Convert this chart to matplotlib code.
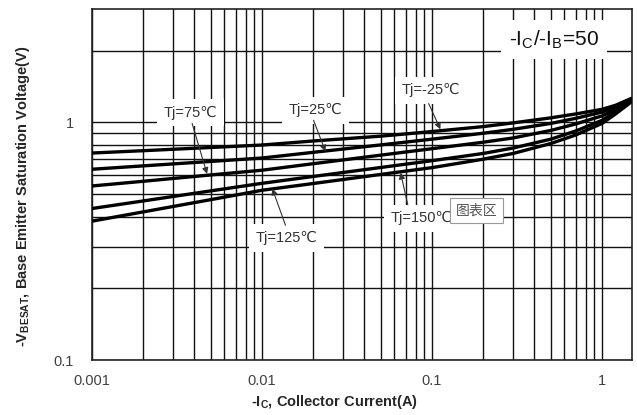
import matplotlib
matplotlib.use("Agg")
import matplotlib.pyplot as plt
from matplotlib.ticker import FixedLocator, NullFormatter, FixedFormatter

plt.rcParams['font.family'] = ['Liberation Sans', 'DejaVu Sans', 'Noto Sans CJK SC']
plt.rcParams['mathtext.fontset'] = 'custom'
plt.rcParams['mathtext.rm'] = 'Liberation Sans'
plt.rcParams['mathtext.bf'] = 'Liberation Sans:bold'

# ---- data ----
ic = [0.001, 0.002, 0.005, 0.01, 0.02, 0.05, 0.1, 0.2, 0.3, 0.5, 0.7, 1.0, 1.2, 1.5]
v_m25 = [0.743, 0.760, 0.784, 0.803, 0.835, 0.875, 0.915, 0.960, 0.995, 1.045, 1.085, 1.135, 1.180, 1.265]
v_25 = [0.635, 0.656, 0.685, 0.708, 0.748, 0.804, 0.850, 0.900, 0.935, 0.990, 1.040, 1.105, 1.160, 1.255]
v_75 = [0.540, 0.565, 0.601, 0.629, 0.670, 0.728, 0.775, 0.825, 0.860, 0.925, 0.985, 1.065, 1.135, 1.245]
v_125 = [0.434, 0.467, 0.515, 0.554, 0.592, 0.646, 0.690, 0.740, 0.780, 0.850, 0.920, 1.020, 1.110, 1.235]
v_150 = [0.384, 0.420, 0.473, 0.518, 0.553, 0.604, 0.645, 0.700, 0.740, 0.815, 0.885, 0.990, 1.085, 1.225]
series = [v_m25, v_25, v_75, v_125, v_150]

x_major = [0.001, 0.01, 0.1, 1]
x_major_labels = ["0.001", "0.01", "0.1", "1"]
y_major = [0.1, 1]
y_major_labels = ["0.1", "1"]

labels = ["Tj=-25\u2103", "Tj=25\u2103", "Tj=75\u2103", "Tj=125\u2103", "Tj=150\u2103"]
label_pos = [(0.0982, 1.363), (0.0206, 1.123), (0.00378, 1.10), (0.0139, 0.326), (0.0870, 0.395)]
arrow_from = [(0.0955, 1.20), (0.0201, 1.02), (0.00388, 0.99), (0.01374, 0.369), (0.0720, 0.450)]
arrow_to = [(0.112, 0.935), (0.0236, 0.755), (0.00475, 0.607), (0.0115, 0.526), (0.0653, 0.614)]

fig = plt.figure(figsize=(6.37, 4.15), dpi=100)
ax = fig.add_axes([92/637, 1-360/415, 540/637, 351/415])
ax.set_xscale('log')
ax.set_yscale('log')
ax.set_xlim(0.001, 1.5)
ax.set_ylim(0.1, 3.0)

# ticks / grid
xminor = [k*10.0**n for n in (-3, -2, -1) for k in range(2, 10)]
yminor = [0.2, 0.3, 0.4, 0.5, 0.6, 0.7, 0.8, 0.9, 2.0]
ax.xaxis.set_major_locator(FixedLocator(x_major))
ax.xaxis.set_major_formatter(FixedFormatter(x_major_labels))
ax.xaxis.set_minor_locator(FixedLocator(xminor))
ax.xaxis.set_minor_formatter(NullFormatter())
ax.yaxis.set_major_locator(FixedLocator(y_major))
ax.yaxis.set_major_formatter(FixedFormatter(y_major_labels))
ax.yaxis.set_minor_locator(FixedLocator(yminor))
ax.yaxis.set_minor_formatter(NullFormatter())
ax.tick_params(which='both', length=0)
ax.tick_params(axis='x', pad=10, labelsize=10.5, labelcolor='#404040')
ax.tick_params(axis='y', pad=13, labelsize=10.5, labelcolor='#404040')
ax.grid(which='both', color='#111111', lw=1.0)
for t in ax.xaxis.get_major_ticks():
    if abs(t.get_loc() - 1) < 1e-9:
        t.gridline.set_color('#a8a8a8')
for t in ax.yaxis.get_major_ticks():
    if abs(t.get_loc() - 1) < 1e-9:
        t.gridline.set_color('#a8a8a8')
ax.set_axisbelow(True)
for s in ax.spines.values():
    s.set_color('#222222')
    s.set_linewidth(1.2)

for v in series:
    ax.plot(ic, v, color='black', lw=2.4, solid_capstyle='butt', solid_joinstyle='round', zorder=3)

for lab, pos, a0, a1 in zip(labels, label_pos, arrow_from, arrow_to):
    ax.text(pos[0], pos[1], lab, ha='center', va='center', fontsize=10.5, color='#333333',
            bbox=dict(facecolor='white', edgecolor='none', boxstyle='square,pad=0.45'), zorder=4)
    ax.annotate('', xy=a1, xytext=a0,
                arrowprops=dict(arrowstyle='-|>', color='#333333', lw=0.8, mutation_scale=9,
                                shrinkA=0, shrinkB=0), zorder=5)

ax.text(0.521, 2.23, r"-I$_\mathrm{C}$/-I$_\mathrm{B}$=50", ha='center', va='center', fontsize=15,
        color='#111111', bbox=dict(facecolor='white', edgecolor='none', boxstyle='square,pad=0.4'), zorder=4)

ax.text(0.183, 0.425, "图表区", ha='center', va='center', fontsize=10, color='#555555',
        family=['Noto Sans CJK SC', 'DejaVu Sans'],
        bbox=dict(facecolor='white', edgecolor='#9a9a9a', lw=0.8, boxstyle='square,pad=0.4'), zorder=6)

ax.set_xlabel(r"-I$_\mathbf{C}$, Collector Current(A)", fontsize=10.5, fontweight='bold', color='#262626')
ax.xaxis.set_label_coords(242/540, -0.095)
ax.set_ylabel(r"-V$_\mathbf{BESAT}$, Base Emitter Saturation Voltage(V)", fontsize=10.5,
              fontweight='bold', color='#262626')
ax.yaxis.set_label_coords(-0.112, 0.467)

fig.savefig('out.png', dpi=100)
